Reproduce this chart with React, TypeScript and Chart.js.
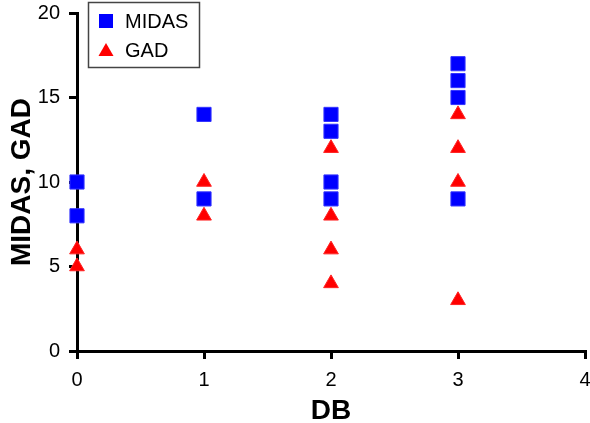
import React, { useEffect, useRef } from 'react';
import { Chart, registerables } from 'chart.js';

Chart.register(...registerables);

const midasDB = [0, 0, 1, 1, 2, 2, 2, 2, 3, 3, 3, 3];
const midasValues = [10, 8, 14, 9, 14, 13, 10, 9, 17, 16, 15, 9];
const gadDB = [0, 0, 1, 1, 2, 2, 2, 2, 3, 3, 3, 3];
const gadValues = [6, 5, 10, 8, 12, 8, 6, 4, 14, 12, 10, 3];
const xTickValues = [0, 1, 2, 3, 4];
const yTickValues = [0, 5, 10, 15, 20];
const seriesNames = ['MIDAS', 'GAD'];
const xTitle = 'DB';
const yTitle = 'MIDAS, GAD';

const FONT = '"Liberation Sans", Arial, Helvetica, sans-serif';

const boxLegend = {
  id: 'boxLegend',
  afterDraw(chart: any) {
    const ctx = chart.ctx;
    ctx.save();
    ctx.strokeStyle = '#444';
    ctx.lineWidth = 1.5;
    ctx.strokeRect(88.5, 2.5, 111, 65);
    const rows = [21, 50];
    chart.data.datasets.forEach((ds: any, i: number) => {
      const cy = rows[i];
      const cx = 106;
      ctx.fillStyle = ds.backgroundColor;
      ctx.beginPath();
      if (ds.pointStyle === 'rect') {
        ctx.rect(cx - 7, cy - 7, 14, 14);
      } else {
        ctx.moveTo(cx, cy - 7);
        ctx.lineTo(cx + 7.5, cy + 6);
        ctx.lineTo(cx - 7.5, cy + 6);
        ctx.closePath();
      }
      ctx.fill();
      ctx.fillStyle = '#000';
      ctx.font = `20px ${FONT}`;
      ctx.textBaseline = 'middle';
      ctx.textAlign = 'left';
      ctx.fillText(ds.label, 125, cy + 1);
    });
    ctx.restore();
  },
};

export default function App() {
  const ref = useRef<HTMLCanvasElement>(null);
  useEffect(() => {
    document.body.style.margin = '0';
    const chart = new Chart(ref.current!, {
      type: 'scatter',
      data: {
        datasets: [
          {
            label: seriesNames[0],
            data: midasDB.map((x, i) => ({ x, y: midasValues[i] })),
            pointStyle: 'rect',
            pointRadius: 10,
            backgroundColor: '#0000FF',
            borderColor: '#3333FF',
            borderWidth: 1,
            clip: false,
          } as any,
          {
            label: seriesNames[1],
            data: gadDB.map((x, i) => ({ x, y: gadValues[i] })),
            pointStyle: 'triangle',
            pointRadius: 8.5,
            backgroundColor: '#FF0000',
            borderColor: '#FF2222',
            borderWidth: 1,
            clip: false,
          } as any,
        ],
      },
      options: {
        animation: false,
        responsive: false,
        layout: { autoPadding: false, padding: { top: 13, right: 5, left: 0, bottom: 0 } },
        plugins: { legend: { display: false }, tooltip: { enabled: false } },
        scales: {
          x: {
            type: 'linear',
            min: 0,
            max: 4,
            afterFit: (s: any) => { s.height = 72; s.paddingLeft = 0; s.paddingRight = 0; },
            afterBuildTicks: (s: any) => { s.ticks = xTickValues.map((v) => ({ value: v })); },
            ticks: { color: '#000', font: { family: FONT, size: 20 }, padding: 9 },
            grid: { drawOnChartArea: false, drawTicks: true, tickLength: 8, color: '#000', lineWidth: 3 },
            border: { display: true, color: '#000', width: 3 },
            title: { display: true, text: xTitle, color: '#000', font: { family: FONT, size: 28, weight: 'bold', lineHeight: 1 }, padding: { top: 0, bottom: -2 } },
          },
          y: {
            type: 'linear',
            min: 0,
            max: 20,
            afterFit: (s: any) => { s.width = 77; s.paddingTop = 0; s.paddingBottom = 0; },
            afterBuildTicks: (s: any) => { s.ticks = yTickValues.map((v) => ({ value: v })); },
            ticks: { color: '#000', font: { family: FONT, size: 20 }, padding: 9 },
            grid: { drawOnChartArea: false, drawTicks: true, tickLength: 8, color: '#000', lineWidth: 3 },
            border: { display: true, color: '#000', width: 3 },
            title: { display: true, text: yTitle, color: '#000', font: { family: FONT, size: 28, weight: 'bold', lineHeight: 1 }, padding: { top: 8, bottom: 0 } },
          },
        },
      } as any,
      plugins: [boxLegend],
    });
    return () => chart.destroy();
  }, []);
  return <canvas ref={ref} width={590} height={423} style={{ display: 'block' }} />;
}
